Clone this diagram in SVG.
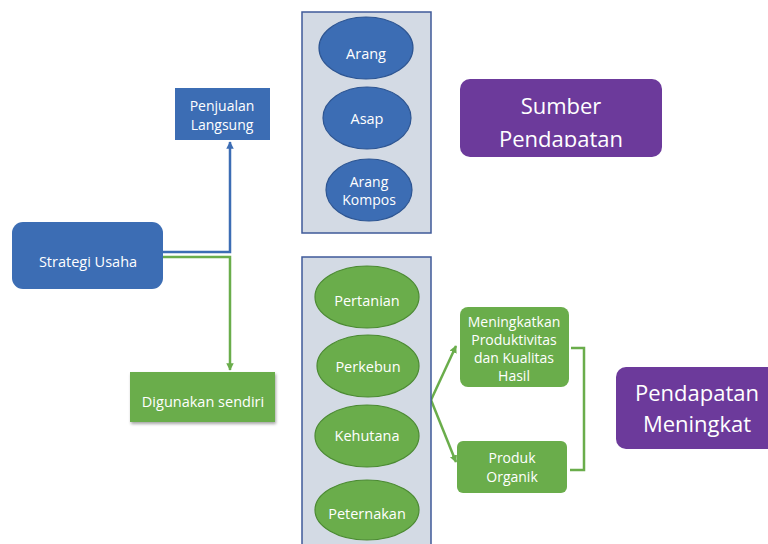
<svg xmlns="http://www.w3.org/2000/svg" width="768" height="544" viewBox="0 0 768 544">
<style>
text{font-family:"Open Sans","Noto Sans","Liberation Sans",sans-serif;fill:#fff;text-anchor:middle;font-size:14.5px}
.blue{fill:#3c6db4}
.green{fill:#6aad4b}
.purple{fill:#6c3a9b}
.panel{fill:#d3dae4;stroke:#3f5a99;stroke-width:1.5}
.be{fill:#3c6db4;stroke:#2d5592;stroke-width:1.2}
.ge{fill:#6aad4b;stroke:#4b8a32;stroke-width:1.2}
.c{fill:none;stroke-width:2.5}
.big{font-size:22px}
.t2{font-size:14px}
</style>
<defs>
<marker id="ab" viewBox="0 0 10 10" refX="9" refY="5" markerWidth="3" markerHeight="3" orient="auto"><path d="M0,0L10,5L0,10z" fill="#3c6db4"/></marker>
<marker id="ag" viewBox="0 0 10 10" refX="9" refY="5" markerWidth="3" markerHeight="3" orient="auto"><path d="M0,0L10,5L0,10z" fill="#6aad4b"/></marker>
<clipPath id="clipS"><rect x="460" y="79" width="202" height="68"/></clipPath>
<filter id="sh" x="-10%" y="-10%" width="125%" height="130%"><feDropShadow dx="1" dy="2" stdDeviation="1.5" flood-color="#000" flood-opacity="0.35"/></filter>
</defs>
<rect width="768" height="544" fill="#fff"/>
<g id="connectors">
<path class="c" d="M163,252H230V142" stroke="#3c6db4" marker-end="url(#ab)"/>
<path class="c" d="M163,257H230V370" stroke="#6aad4b" marker-end="url(#ag)"/>
<path class="c" d="M431,400L456,346" stroke="#6aad4b" marker-end="url(#ag)"/>
<path class="c" d="M431,400L456,462" stroke="#6aad4b" marker-end="url(#ag)"/>
<path class="c" d="M571,348H584V470H570" stroke="#6aad4b"/>
</g>
<g id="strategi"><rect class="blue" x="12" y="222" width="151" height="67" rx="11"/><text x="88" y="267">Strategi Usaha</text></g>
<g id="penjualan"><rect class="blue" x="175" y="88" width="95" height="52"/><text class="t2" x="222" y="111">Penjualan</text><text class="t2" x="222" y="130">Langsung</text></g>
<g id="digunakan"><rect class="green" x="130" y="372" width="145" height="50" filter="url(#sh)"/><text x="203" y="407">Digunakan sendiri</text></g>
<g id="panel-top"><rect class="panel" x="302" y="12" width="129" height="221"/></g>
<g id="arang"><ellipse class="be" cx="366" cy="48" rx="47" ry="31"/><text x="366" y="59" font-size="15">Arang</text></g>
<g id="asap"><ellipse class="be" cx="367" cy="118" rx="44" ry="31"/><text x="367" y="124" font-size="15">Asap</text></g>
<g id="arang-kompos"><ellipse class="be" cx="369" cy="190" rx="43" ry="31"/><text class="t2" x="369" y="187">Arang</text><text class="t2" x="369" y="205">Kompos</text></g>
<g id="sumber"><rect class="purple" x="460" y="79" width="202" height="78" rx="10"/><g clip-path="url(#clipS)"><text class="big" x="561" y="114">Sumber</text><text class="big" x="561" y="147">Pendapatan</text></g></g>
<g id="panel-bottom"><rect class="panel" x="302" y="257" width="129" height="295"/></g>
<g id="pertanian"><ellipse class="ge" cx="367" cy="297" rx="52" ry="31"/><text x="367" y="306">Pertanian</text></g>
<g id="perkebun"><ellipse class="ge" cx="368" cy="366" rx="51" ry="31"/><text x="368" y="372">Perkebun</text></g>
<g id="kehutana"><ellipse class="ge" cx="367" cy="436" rx="52" ry="31"/><text x="367" y="441">Kehutana</text></g>
<g id="peternakan"><ellipse class="ge" cx="367" cy="510" rx="52" ry="30"/><text x="367" y="519" font-size="11.8">Peternakan</text></g>
<g id="meningkatkan"><rect class="green" x="460" y="307" width="109" height="80" rx="8"/><text class="t2" x="514" y="327">Meningkatkan</text><text class="t2" x="514" y="345">Produktivitas</text><text class="t2" x="514" y="363">dan Kualitas</text><text class="t2" x="514" y="381">Hasil</text></g>
<g id="produk"><rect class="green" x="457" y="441" width="110" height="52" rx="6"/><text class="t2" x="512" y="463">Produk</text><text class="t2" x="512" y="482">Organik</text></g>
<g id="pendapatan"><rect class="purple" x="616" y="367" width="162" height="82" rx="10"/><text class="big" x="697" y="401">Pendapatan</text><text class="big" x="697" y="432">Meningkat</text></g>
</svg>
